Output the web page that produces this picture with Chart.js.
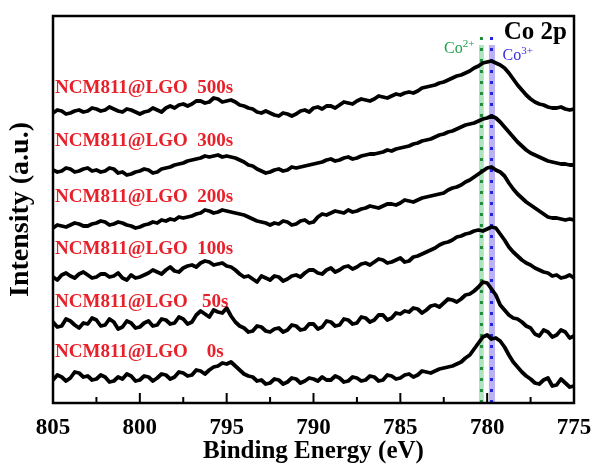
<!DOCTYPE html>
<html lang="en">
<head>
    <meta charset="UTF-8">
    <title>Co 2p XPS</title>
    <script src="https://cdn.jsdelivr.net/npm/chart.js"></script>
    <style>
        body { margin: 0; background: #fff; }
        canvas { display: block; }
    </style>
</head>
<body>
    <canvas id="xps" width="594" height="468"></canvas>

    <script>
        // binding energy grid (eV)
        const energy = [805, 804.75, 804.5, 804.25, 804, 803.75, 803.5, 803.25,
                        803, 802.75, 802.5, 802.25, 802, 801.75, 801.5, 801.25,
                        801, 800.75, 800.5, 800.25, 800, 799.75, 799.5, 799.25,
                        799, 798.75, 798.5, 798.25, 798, 797.75, 797.5, 797.25,
                        797, 796.75, 796.5, 796.25, 796, 795.75, 795.5, 795.25,
                        795, 794.75, 794.5, 794.25, 794, 793.75, 793.5, 793.25,
                        793, 792.75, 792.5, 792.25, 792, 791.75, 791.5, 791.25,
                        791, 790.75, 790.5, 790.25, 790, 789.75, 789.5, 789.25,
                        789, 788.75, 788.5, 788.25, 788, 787.75, 787.5, 787.25,
                        787, 786.75, 786.5, 786.25, 786, 785.75, 785.5, 785.25,
                        785, 784.75, 784.5, 784.25, 784, 783.75, 783.5, 783.25,
                        783, 782.75, 782.5, 782.25, 782, 781.75, 781.5, 781.25,
                        781, 780.75, 780.5, 780.25, 780, 779.75, 779.5, 779.25,
                        779, 778.75, 778.5, 778.25, 778, 777.75, 777.5, 777.25,
                        777, 776.75, 776.5, 776.25, 776, 775.75, 775.5, 775.25,
                        775];

        // stacked intensities (a.u., vertical offsets included)
        const s500 = [290, 293, 292, 289, 290, 292, 293, 291, 292, 295,
                      294, 292, 293, 296, 294, 292, 291, 294, 293, 291,
                      289, 291, 292, 295, 293, 291, 295, 297, 295, 298,
                      299, 297, 299, 302, 302, 300, 301, 305, 304, 301,
                      302, 303, 301, 298, 297, 295, 294, 291, 290, 292,
                      290, 288, 287, 290, 289, 287, 289, 292, 293, 291,
                      295, 296, 294, 297, 297, 295, 298, 301, 300, 299,
                      302, 304, 303, 302, 304, 307, 306, 305, 307, 309,
                      308, 310, 311, 310, 312, 315, 316, 317, 318, 320,
                      321, 323, 325, 327, 328, 330, 332, 335, 337, 340,
                      341, 342, 340, 338, 335, 330, 324, 318, 313, 308,
                      304, 301, 299, 298, 296, 295, 295, 296, 294, 293, 294];
        const s300 = [233, 231, 232, 235, 234, 231, 232, 234, 235, 232,
                      233, 231, 232, 235, 234, 230, 231, 228, 229, 231,
                      232, 234, 233, 230, 231, 234, 235, 236, 238, 239,
                      240, 242, 243, 244, 245, 247, 246, 247, 248, 246,
                      247, 246, 245, 243, 241, 238, 237, 234, 232, 230,
                      231, 233, 234, 232, 233, 236, 235, 236, 237, 238,
                      239, 240, 241, 243, 244, 242, 243, 245, 246, 244,
                      245, 247, 248, 249, 249, 250, 251, 253, 252, 254,
                      255, 256, 257, 259, 260, 262, 263, 264, 266, 268,
                      269, 271, 272, 274, 276, 278, 279, 280, 282, 284,
                      285, 287, 285, 281, 276, 271, 266, 261, 257, 253,
                      250, 248, 246, 244, 242, 241, 240, 239, 239, 238, 238];
        const s200 = [175, 178, 177, 176, 178, 180, 179, 177, 177, 179,
                      180, 182, 181, 178, 179, 181, 180, 178, 177, 175,
                      176, 178, 179, 181, 180, 183, 182, 184, 183, 186,
                      185, 186, 187, 189, 190, 193, 192, 190, 191, 193,
                      192, 191, 190, 189, 188, 186, 184, 182, 181, 180,
                      178, 180, 179, 182, 181, 178, 179, 182, 183, 180,
                      181, 186, 189, 188, 190, 192, 191, 190, 193, 191,
                      192, 194, 195, 197, 196, 195, 197, 199, 199, 198,
                      200, 203, 202, 201, 203, 205, 206, 207, 208, 209,
                      210, 213, 215, 216, 218, 221, 223, 226, 229, 232,
                      235, 236, 233, 231, 227, 220, 214, 209, 205, 201,
                      198, 195, 192, 189, 186, 185, 185, 184, 183, 184, 183];
        const s100 = [126, 123, 128, 130, 127, 125, 129, 131, 128, 125,
                      126, 129, 129, 126, 127, 130, 125, 123, 128, 125,
                      126, 128, 130, 133, 131, 129, 133, 136, 132, 131,
                      135, 137, 138, 136, 140, 142, 141, 138, 139, 140,
                      137, 136, 133, 129, 126, 127, 124, 121, 127, 125,
                      123, 127, 126, 122, 124, 127, 128, 126, 130, 133,
                      133, 130, 129, 133, 135, 131, 133, 136, 137, 134,
                      136, 139, 140, 138, 141, 144, 143, 140, 141, 143,
                      145, 141, 142, 146, 147, 149, 151, 153, 155, 158,
                      160, 161, 163, 166, 167, 169, 170, 172, 173, 172,
                      174, 176, 175, 169, 163, 156, 151, 147, 143, 140,
                      138, 135, 133, 131, 130, 127, 128, 125, 126, 128, 125];
        const s50 = [81, 76, 77, 84, 82, 78, 75, 80, 79, 85,
                     83, 77, 78, 84, 81, 74, 76, 82, 80, 75,
                     76, 80, 82, 77, 78, 84, 83, 79, 80, 86,
                     84, 79, 81, 88, 92, 89, 86, 93, 91, 90,
                     95, 87, 81, 77, 75, 71, 72, 77, 76, 72,
                     71, 74, 75, 71, 73, 78, 77, 73, 74, 79,
                     79, 74, 76, 82, 81, 77, 78, 84, 83, 79,
                     80, 86, 85, 81, 83, 88, 88, 83, 85, 90,
                     89, 92, 91, 95, 94, 90, 93, 97, 98, 96,
                     100, 104, 103, 101, 104, 108, 109, 112, 116, 121,
                     120, 114, 108, 98, 93, 88, 85, 84, 81, 77,
                     75, 69, 67, 73, 71, 66, 68, 73, 71, 65, 67];
        const s0 = [23, 28, 26, 22, 25, 31, 30, 26, 27, 23,
                    24, 28, 26, 21, 22, 26, 24, 29, 27, 22,
                    23, 27, 26, 22, 25, 29, 28, 24, 26, 31,
                    30, 27, 28, 33, 32, 29, 33, 36, 37, 40,
                    39, 41, 37, 33, 29, 27, 26, 22, 23, 19,
                    20, 24, 23, 19, 21, 25, 24, 20, 22, 25,
                    24, 22, 26, 23, 23, 27, 25, 21, 22, 26,
                    25, 22, 23, 27, 26, 22, 23, 28, 27, 24,
                    25, 28, 29, 26, 28, 32, 31, 30, 32, 34,
                    35, 36, 37, 39, 41, 45, 48, 54, 60, 66,
                    68, 64, 65, 62, 56, 48, 41, 36, 31, 27,
                    24, 20, 19, 23, 25, 17, 18, 24, 20, 16, 17];

        const seriesNames = ['NCM811@LGO  500s', 'NCM811@LGO  300s', 'NCM811@LGO  200s',
                             'NCM811@LGO  100s', 'NCM811@LGO   50s', 'NCM811@LGO    0s'];
        const labelHeights = [315, 262, 206, 154, 101, 51];

        const co2Band = [780.47, 780.19];
        const co2Line = 780.33;
        const co3Band = [779.9, 779.55];
        const co3Line = 779.75;

        const serif = '"Liberation Serif", "Times New Roman", serif';

        const decor = {
            id: 'decor',
            beforeDatasetsDraw(chart) {
                const { ctx, chartArea: a, scales: { x, y } } = chart;
                ctx.save();
                const bandTop = y.getPixelForValue(358);
                const lineTop = y.getPixelForValue(366);

                let x0 = x.getPixelForValue(co2Band[0]), x1 = x.getPixelForValue(co2Band[1]);
                ctx.fillStyle = 'rgba(110, 205, 140, 0.55)';
                ctx.fillRect(x0, bandTop, x1 - x0, a.bottom - bandTop);
                x0 = x.getPixelForValue(co3Band[0]); x1 = x.getPixelForValue(co3Band[1]);
                ctx.fillStyle = 'rgba(130, 115, 235, 0.55)';
                ctx.fillRect(x0, bandTop, x1 - x0, a.bottom - bandTop);

                ctx.lineWidth = 3;
                ctx.setLineDash([3, 8]);
                ctx.strokeStyle = '#1e8c3a';
                let lx = x.getPixelForValue(co2Line);
                ctx.beginPath(); ctx.moveTo(lx, lineTop); ctx.lineTo(lx, a.bottom); ctx.stroke();
                ctx.strokeStyle = '#2323e0';
                lx = x.getPixelForValue(co3Line);
                ctx.beginPath(); ctx.moveTo(lx, lineTop); ctx.lineTo(lx, a.bottom); ctx.stroke();
                ctx.restore();
            },
            afterDraw(chart) {
                const { ctx, chartArea: a, scales: { x, y } } = chart;
                ctx.save();
                // frame
                ctx.strokeStyle = '#000';
                ctx.lineWidth = 2.5;
                ctx.strokeRect(a.left, a.top, a.right - a.left, a.bottom - a.top);
                // inward ticks on the bottom axis
                ctx.lineWidth = 2;
                x.ticks.forEach(t => {
                    const px = x.getPixelForValue(t.value);
                    const len = t.value % 5 === 0 ? 10 : 6;
                    ctx.beginPath(); ctx.moveTo(px, a.bottom); ctx.lineTo(px, a.bottom - len); ctx.stroke();
                });

                // sample names
                ctx.fillStyle = '#e8202a';
                ctx.font = 'bold 19px ' + serif;
                ctx.textBaseline = 'middle';
                ctx.textAlign = 'left';
                seriesNames.forEach((name, i) => {
                    ctx.fillText(name, a.left + 2, y.getPixelForValue(labelHeights[i]));
                });

                // Co 2p
                ctx.fillStyle = '#000';
                ctx.font = 'bold 25px ' + serif;
                ctx.textBaseline = 'alphabetic';
                ctx.textAlign = 'right';
                ctx.fillText('Co 2p', a.right - 7, y.getPixelForValue(364));

                // Co2+ / Co3+
                const gx = x.getPixelForValue(co2Line);
                const bx = x.getPixelForValue(co3Line);
                ctx.textAlign = 'left';
                ctx.fillStyle = '#1fa04a';
                ctx.font = '16px ' + serif;
                let base = y.getPixelForValue(350);
                const w = ctx.measureText('Co').width;
                ctx.font = '11px ' + serif;
                const sw = ctx.measureText('2+').width;
                const sx = gx - 7 - sw - w;
                ctx.font = '16px ' + serif;
                ctx.fillText('Co', sx, base);
                ctx.font = '11px ' + serif;
                ctx.fillText('2+', sx + w, base - 6);

                ctx.fillStyle = '#3a2ee0';
                base = y.getPixelForValue(343);
                ctx.font = '16px ' + serif;
                ctx.fillText('Co', bx + 11, base);
                ctx.font = '11px ' + serif;
                ctx.fillText('3+', bx + 11 + w, base - 6);
                ctx.restore();
            }
        };

        function pairs(vals) {
            return energy.map((e, i) => ({ x: e, y: vals[i] }));
        }

        const datasets = [s500, s300, s200, s100, s50, s0].map((vals, i) => ({
            label: seriesNames[i],
            data: pairs(vals),
            borderColor: '#000',
            borderWidth: 3.8,
            borderJoinStyle: 'round',
            borderCapStyle: 'round',
            pointRadius: 0,
            tension: 0,
            fill: false
        }));

        new Chart(document.getElementById('xps'), {
            type: 'line',
            data: { datasets: datasets },
            options: {
                responsive: false,
                animation: false,
                layout: { padding: { top: 16, right: 20, left: 0, bottom: 0 } },
                plugins: { legend: { display: false }, tooltip: { enabled: false } },
                scales: {
                    x: {
                        type: 'linear',
                        reverse: true,
                        min: 775,
                        max: 805,
                        grid: { display: false },
                        border: { display: false },
                        afterFit: s => { s.height = 65; },
                        afterBuildTicks: s => {
                            s.ticks = [];
                            for (let v = 775; v <= 805; v += 2.5) s.ticks.push({ value: v });
                        },
                        ticks: {
                            autoSkip: false,
                            maxRotation: 0,
                            padding: 3,
                            color: '#000',
                            font: { family: serif, size: 23, weight: 'bold' },
                            callback: v => (v % 5 === 0 ? v : '')
                        },
                        title: {
                            display: true,
                            text: 'Binding Energy (eV)',
                            color: '#000',
                            font: { family: serif, size: 25, weight: 'bold' },
                            padding: { top: 0, bottom: 1 }
                        }
                    },
                    y: {
                        min: 0,
                        max: 387,
                        grid: { display: false },
                        border: { display: false },
                        ticks: { display: false },
                        afterFit: s => { s.width = 53; },
                        title: {
                            display: true,
                            text: 'Intensity (a.u.)',
                            color: '#000',
                            font: { family: serif, size: 28, weight: 'bold' },
                            padding: { top: 4, bottom: 0 }
                        }
                    }
                }
            },
            plugins: [decor]
        });
    </script>
</body>
</html>
